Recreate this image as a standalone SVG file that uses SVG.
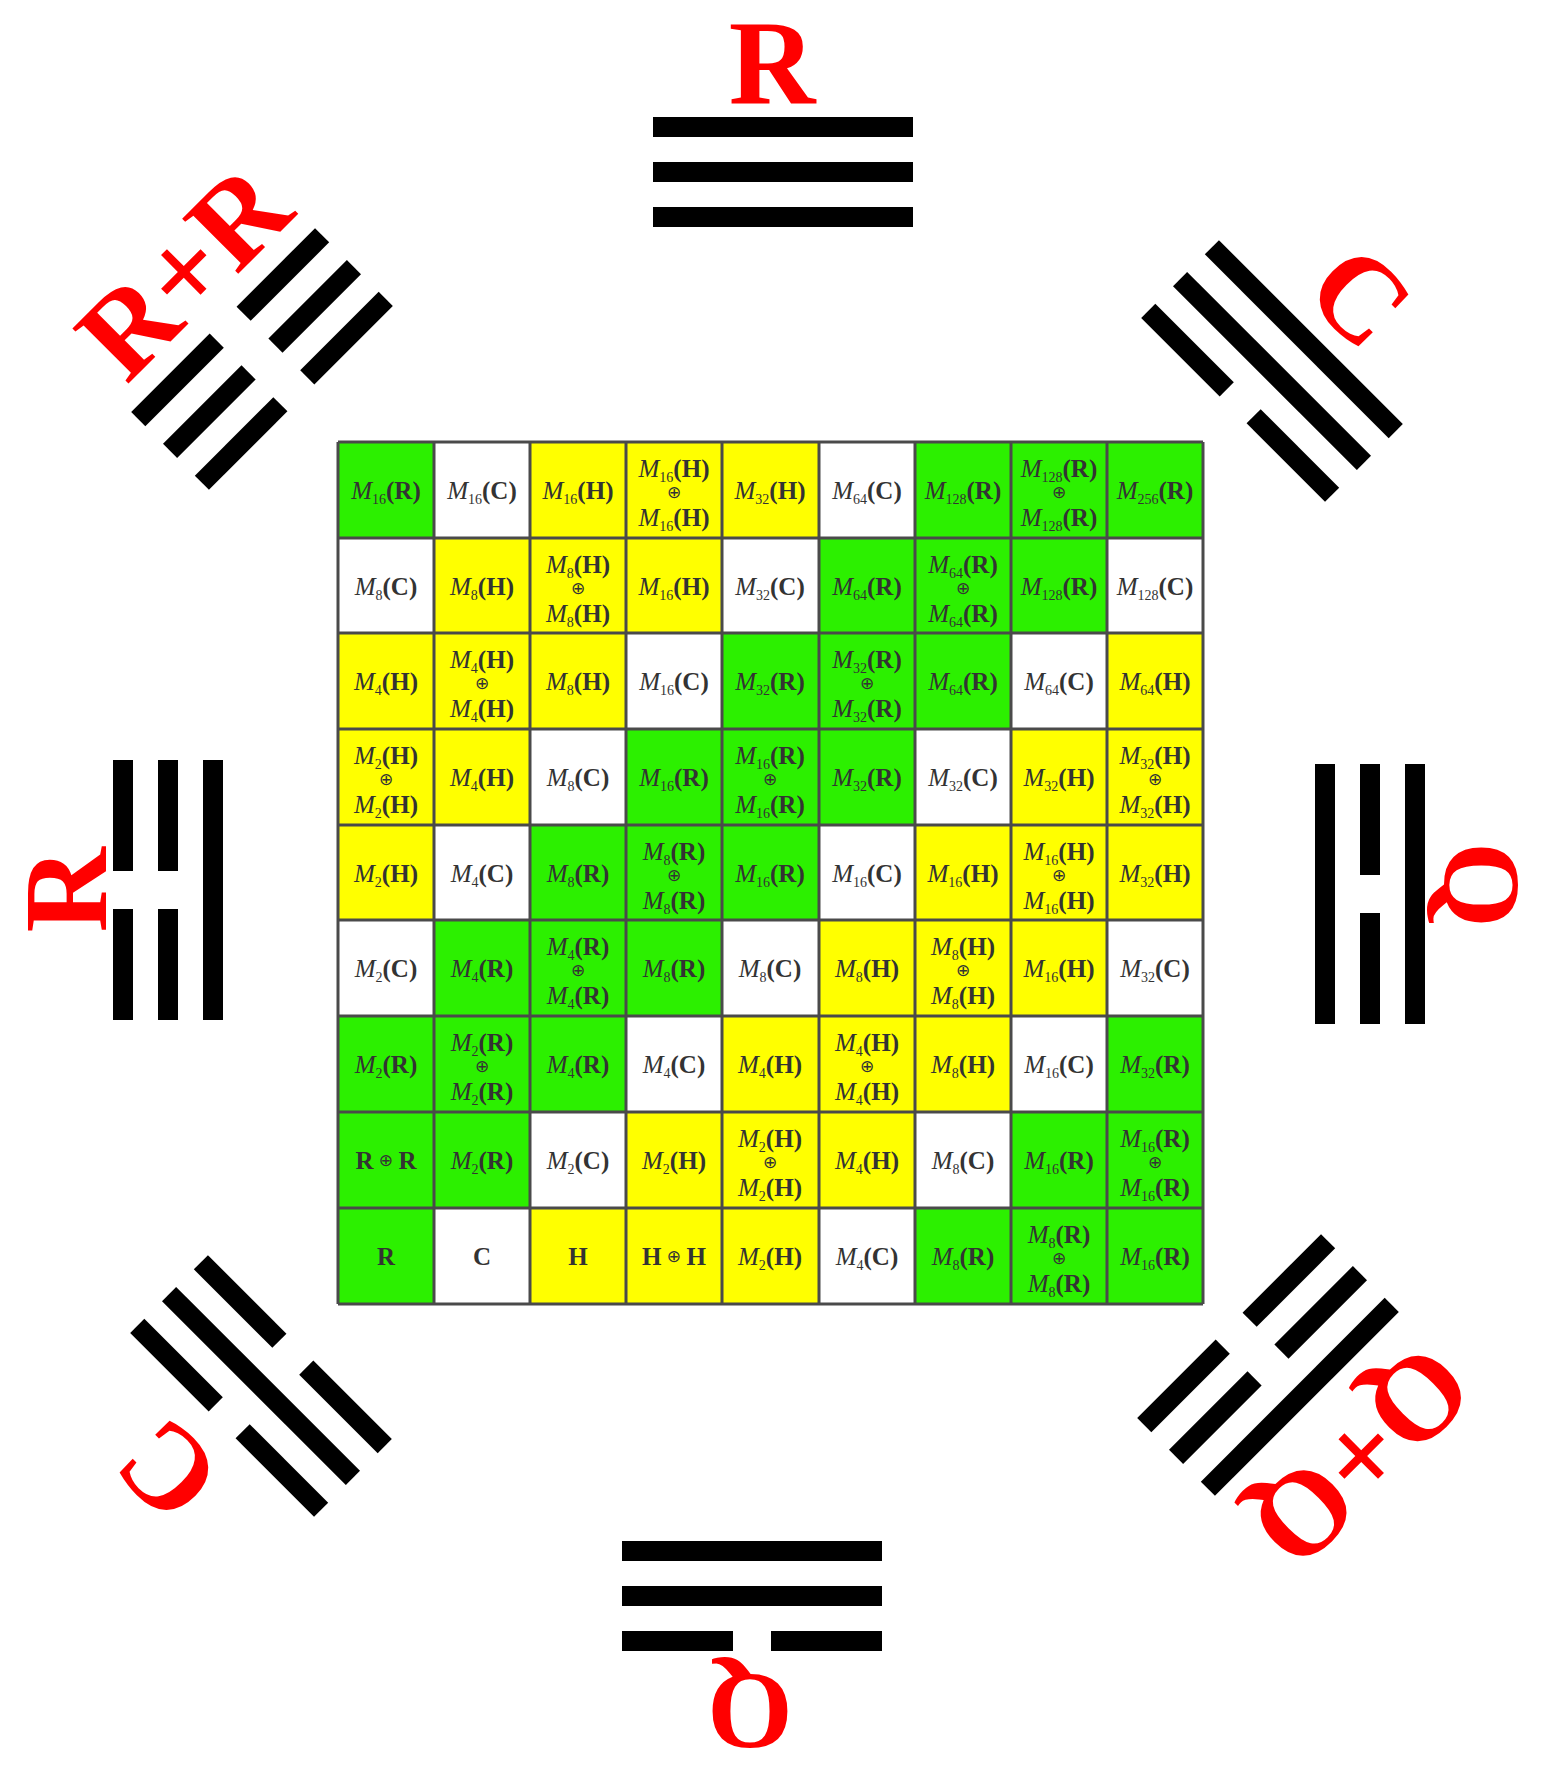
<svg xmlns="http://www.w3.org/2000/svg" xmlns:xlink="http://www.w3.org/1999/xlink" width="1543" height="1773" viewBox="0 0 1543 1773">
<style>
.G{fill:#2cf000}.Y{fill:#ffff00}.W{fill:#ffffff}
.t{font-family:"Liberation Serif",serif;font-size:25px;fill:#333;text-anchor:middle}
.m{font-style:italic}.s{font-size:14px}.b{font-weight:bold}
.o{font-family:"DejaVu Sans",sans-serif;font-size:17px;fill:#333;text-anchor:middle;dominant-baseline:central}
.lbl{font-family:"Liberation Serif",serif;font-weight:bold;fill:#ff0000;text-anchor:middle}
.bar{fill:#000}
.grid{fill:none;stroke:#4a4a4a;stroke-width:3}
</style>
<defs>
<rect id="sol" class="bar" x="-130" y="-10" width="260" height="20"/>
<g id="brk" class="bar"><rect x="-130" y="-10" width="111" height="20"/><rect x="19" y="-10" width="111" height="20"/></g>
</defs>
<rect width="1543" height="1773" fill="#fff"/>

<!-- grid cells -->
<g id="grid">
<!-- row 0 -->
<g id="r0c0"><rect class="G" x="338" y="442" width="96" height="96"/><text class="t" x="386" y="499"><tspan class="m">M</tspan><tspan class="s" dy="5">16</tspan><tspan class="b" dy="-5">(R)</tspan></text></g>
<g id="r0c1"><rect class="W" x="434" y="442" width="96" height="96"/><text class="t" x="482" y="499"><tspan class="m">M</tspan><tspan class="s" dy="5">16</tspan><tspan class="b" dy="-5">(C)</tspan></text></g>
<g id="r0c2"><rect class="Y" x="530" y="442" width="96" height="96"/><text class="t" x="578" y="499"><tspan class="m">M</tspan><tspan class="s" dy="5">16</tspan><tspan class="b" dy="-5">(H)</tspan></text></g>
<g id="r0c3"><rect class="Y" x="626" y="442" width="96" height="96"/><text class="t" x="674" y="477"><tspan class="m">M</tspan><tspan class="s" dy="5">16</tspan><tspan class="b" dy="-5">(H)</tspan></text><text class="o" x="674" y="492">⊕</text><text class="t" x="674" y="526"><tspan class="m">M</tspan><tspan class="s" dy="5">16</tspan><tspan class="b" dy="-5">(H)</tspan></text></g>
<g id="r0c4"><rect class="Y" x="722" y="442" width="97" height="96"/><text class="t" x="770" y="499"><tspan class="m">M</tspan><tspan class="s" dy="5">32</tspan><tspan class="b" dy="-5">(H)</tspan></text></g>
<g id="r0c5"><rect class="W" x="819" y="442" width="96" height="96"/><text class="t" x="867" y="499"><tspan class="m">M</tspan><tspan class="s" dy="5">64</tspan><tspan class="b" dy="-5">(C)</tspan></text></g>
<g id="r0c6"><rect class="G" x="915" y="442" width="96" height="96"/><text class="t" x="963" y="499"><tspan class="m">M</tspan><tspan class="s" dy="5">128</tspan><tspan class="b" dy="-5">(R)</tspan></text></g>
<g id="r0c7"><rect class="G" x="1011" y="442" width="96" height="96"/><text class="t" x="1059" y="477"><tspan class="m">M</tspan><tspan class="s" dy="5">128</tspan><tspan class="b" dy="-5">(R)</tspan></text><text class="o" x="1059" y="492">⊕</text><text class="t" x="1059" y="526"><tspan class="m">M</tspan><tspan class="s" dy="5">128</tspan><tspan class="b" dy="-5">(R)</tspan></text></g>
<g id="r0c8"><rect class="G" x="1107" y="442" width="96" height="96"/><text class="t" x="1155" y="499"><tspan class="m">M</tspan><tspan class="s" dy="5">256</tspan><tspan class="b" dy="-5">(R)</tspan></text></g>
<!-- row 1 -->
<g id="r1c0"><rect class="W" x="338" y="538" width="96" height="95"/><text class="t" x="386" y="595"><tspan class="m">M</tspan><tspan class="s" dy="5">8</tspan><tspan class="b" dy="-5">(C)</tspan></text></g>
<g id="r1c1"><rect class="Y" x="434" y="538" width="96" height="95"/><text class="t" x="482" y="595"><tspan class="m">M</tspan><tspan class="s" dy="5">8</tspan><tspan class="b" dy="-5">(H)</tspan></text></g>
<g id="r1c2"><rect class="Y" x="530" y="538" width="96" height="95"/><text class="t" x="578" y="573"><tspan class="m">M</tspan><tspan class="s" dy="5">8</tspan><tspan class="b" dy="-5">(H)</tspan></text><text class="o" x="578" y="588">⊕</text><text class="t" x="578" y="622"><tspan class="m">M</tspan><tspan class="s" dy="5">8</tspan><tspan class="b" dy="-5">(H)</tspan></text></g>
<g id="r1c3"><rect class="Y" x="626" y="538" width="96" height="95"/><text class="t" x="674" y="595"><tspan class="m">M</tspan><tspan class="s" dy="5">16</tspan><tspan class="b" dy="-5">(H)</tspan></text></g>
<g id="r1c4"><rect class="W" x="722" y="538" width="97" height="95"/><text class="t" x="770" y="595"><tspan class="m">M</tspan><tspan class="s" dy="5">32</tspan><tspan class="b" dy="-5">(C)</tspan></text></g>
<g id="r1c5"><rect class="G" x="819" y="538" width="96" height="95"/><text class="t" x="867" y="595"><tspan class="m">M</tspan><tspan class="s" dy="5">64</tspan><tspan class="b" dy="-5">(R)</tspan></text></g>
<g id="r1c6"><rect class="G" x="915" y="538" width="96" height="95"/><text class="t" x="963" y="573"><tspan class="m">M</tspan><tspan class="s" dy="5">64</tspan><tspan class="b" dy="-5">(R)</tspan></text><text class="o" x="963" y="588">⊕</text><text class="t" x="963" y="622"><tspan class="m">M</tspan><tspan class="s" dy="5">64</tspan><tspan class="b" dy="-5">(R)</tspan></text></g>
<g id="r1c7"><rect class="G" x="1011" y="538" width="96" height="95"/><text class="t" x="1059" y="595"><tspan class="m">M</tspan><tspan class="s" dy="5">128</tspan><tspan class="b" dy="-5">(R)</tspan></text></g>
<g id="r1c8"><rect class="W" x="1107" y="538" width="96" height="95"/><text class="t" x="1155" y="595"><tspan class="m">M</tspan><tspan class="s" dy="5">128</tspan><tspan class="b" dy="-5">(C)</tspan></text></g>
<!-- row 2 -->
<g id="r2c0"><rect class="Y" x="338" y="633" width="96" height="96"/><text class="t" x="386" y="690"><tspan class="m">M</tspan><tspan class="s" dy="5">4</tspan><tspan class="b" dy="-5">(H)</tspan></text></g>
<g id="r2c1"><rect class="Y" x="434" y="633" width="96" height="96"/><text class="t" x="482" y="668"><tspan class="m">M</tspan><tspan class="s" dy="5">4</tspan><tspan class="b" dy="-5">(H)</tspan></text><text class="o" x="482" y="683">⊕</text><text class="t" x="482" y="717"><tspan class="m">M</tspan><tspan class="s" dy="5">4</tspan><tspan class="b" dy="-5">(H)</tspan></text></g>
<g id="r2c2"><rect class="Y" x="530" y="633" width="96" height="96"/><text class="t" x="578" y="690"><tspan class="m">M</tspan><tspan class="s" dy="5">8</tspan><tspan class="b" dy="-5">(H)</tspan></text></g>
<g id="r2c3"><rect class="W" x="626" y="633" width="96" height="96"/><text class="t" x="674" y="690"><tspan class="m">M</tspan><tspan class="s" dy="5">16</tspan><tspan class="b" dy="-5">(C)</tspan></text></g>
<g id="r2c4"><rect class="G" x="722" y="633" width="97" height="96"/><text class="t" x="770" y="690"><tspan class="m">M</tspan><tspan class="s" dy="5">32</tspan><tspan class="b" dy="-5">(R)</tspan></text></g>
<g id="r2c5"><rect class="G" x="819" y="633" width="96" height="96"/><text class="t" x="867" y="668"><tspan class="m">M</tspan><tspan class="s" dy="5">32</tspan><tspan class="b" dy="-5">(R)</tspan></text><text class="o" x="867" y="683">⊕</text><text class="t" x="867" y="717"><tspan class="m">M</tspan><tspan class="s" dy="5">32</tspan><tspan class="b" dy="-5">(R)</tspan></text></g>
<g id="r2c6"><rect class="G" x="915" y="633" width="96" height="96"/><text class="t" x="963" y="690"><tspan class="m">M</tspan><tspan class="s" dy="5">64</tspan><tspan class="b" dy="-5">(R)</tspan></text></g>
<g id="r2c7"><rect class="W" x="1011" y="633" width="96" height="96"/><text class="t" x="1059" y="690"><tspan class="m">M</tspan><tspan class="s" dy="5">64</tspan><tspan class="b" dy="-5">(C)</tspan></text></g>
<g id="r2c8"><rect class="Y" x="1107" y="633" width="96" height="96"/><text class="t" x="1155" y="690"><tspan class="m">M</tspan><tspan class="s" dy="5">64</tspan><tspan class="b" dy="-5">(H)</tspan></text></g>
<!-- row 3 -->
<g id="r3c0"><rect class="Y" x="338" y="729" width="96" height="96"/><text class="t" x="386" y="764"><tspan class="m">M</tspan><tspan class="s" dy="5">2</tspan><tspan class="b" dy="-5">(H)</tspan></text><text class="o" x="386" y="779">⊕</text><text class="t" x="386" y="813"><tspan class="m">M</tspan><tspan class="s" dy="5">2</tspan><tspan class="b" dy="-5">(H)</tspan></text></g>
<g id="r3c1"><rect class="Y" x="434" y="729" width="96" height="96"/><text class="t" x="482" y="786"><tspan class="m">M</tspan><tspan class="s" dy="5">4</tspan><tspan class="b" dy="-5">(H)</tspan></text></g>
<g id="r3c2"><rect class="W" x="530" y="729" width="96" height="96"/><text class="t" x="578" y="786"><tspan class="m">M</tspan><tspan class="s" dy="5">8</tspan><tspan class="b" dy="-5">(C)</tspan></text></g>
<g id="r3c3"><rect class="G" x="626" y="729" width="96" height="96"/><text class="t" x="674" y="786"><tspan class="m">M</tspan><tspan class="s" dy="5">16</tspan><tspan class="b" dy="-5">(R)</tspan></text></g>
<g id="r3c4"><rect class="G" x="722" y="729" width="97" height="96"/><text class="t" x="770" y="764"><tspan class="m">M</tspan><tspan class="s" dy="5">16</tspan><tspan class="b" dy="-5">(R)</tspan></text><text class="o" x="770" y="779">⊕</text><text class="t" x="770" y="813"><tspan class="m">M</tspan><tspan class="s" dy="5">16</tspan><tspan class="b" dy="-5">(R)</tspan></text></g>
<g id="r3c5"><rect class="G" x="819" y="729" width="96" height="96"/><text class="t" x="867" y="786"><tspan class="m">M</tspan><tspan class="s" dy="5">32</tspan><tspan class="b" dy="-5">(R)</tspan></text></g>
<g id="r3c6"><rect class="W" x="915" y="729" width="96" height="96"/><text class="t" x="963" y="786"><tspan class="m">M</tspan><tspan class="s" dy="5">32</tspan><tspan class="b" dy="-5">(C)</tspan></text></g>
<g id="r3c7"><rect class="Y" x="1011" y="729" width="96" height="96"/><text class="t" x="1059" y="786"><tspan class="m">M</tspan><tspan class="s" dy="5">32</tspan><tspan class="b" dy="-5">(H)</tspan></text></g>
<g id="r3c8"><rect class="Y" x="1107" y="729" width="96" height="96"/><text class="t" x="1155" y="764"><tspan class="m">M</tspan><tspan class="s" dy="5">32</tspan><tspan class="b" dy="-5">(H)</tspan></text><text class="o" x="1155" y="779">⊕</text><text class="t" x="1155" y="813"><tspan class="m">M</tspan><tspan class="s" dy="5">32</tspan><tspan class="b" dy="-5">(H)</tspan></text></g>
<!-- row 4 -->
<g id="r4c0"><rect class="Y" x="338" y="825" width="96" height="95"/><text class="t" x="386" y="882"><tspan class="m">M</tspan><tspan class="s" dy="5">2</tspan><tspan class="b" dy="-5">(H)</tspan></text></g>
<g id="r4c1"><rect class="W" x="434" y="825" width="96" height="95"/><text class="t" x="482" y="882"><tspan class="m">M</tspan><tspan class="s" dy="5">4</tspan><tspan class="b" dy="-5">(C)</tspan></text></g>
<g id="r4c2"><rect class="G" x="530" y="825" width="96" height="95"/><text class="t" x="578" y="882"><tspan class="m">M</tspan><tspan class="s" dy="5">8</tspan><tspan class="b" dy="-5">(R)</tspan></text></g>
<g id="r4c3"><rect class="G" x="626" y="825" width="96" height="95"/><text class="t" x="674" y="860"><tspan class="m">M</tspan><tspan class="s" dy="5">8</tspan><tspan class="b" dy="-5">(R)</tspan></text><text class="o" x="674" y="875">⊕</text><text class="t" x="674" y="909"><tspan class="m">M</tspan><tspan class="s" dy="5">8</tspan><tspan class="b" dy="-5">(R)</tspan></text></g>
<g id="r4c4"><rect class="G" x="722" y="825" width="97" height="95"/><text class="t" x="770" y="882"><tspan class="m">M</tspan><tspan class="s" dy="5">16</tspan><tspan class="b" dy="-5">(R)</tspan></text></g>
<g id="r4c5"><rect class="W" x="819" y="825" width="96" height="95"/><text class="t" x="867" y="882"><tspan class="m">M</tspan><tspan class="s" dy="5">16</tspan><tspan class="b" dy="-5">(C)</tspan></text></g>
<g id="r4c6"><rect class="Y" x="915" y="825" width="96" height="95"/><text class="t" x="963" y="882"><tspan class="m">M</tspan><tspan class="s" dy="5">16</tspan><tspan class="b" dy="-5">(H)</tspan></text></g>
<g id="r4c7"><rect class="Y" x="1011" y="825" width="96" height="95"/><text class="t" x="1059" y="860"><tspan class="m">M</tspan><tspan class="s" dy="5">16</tspan><tspan class="b" dy="-5">(H)</tspan></text><text class="o" x="1059" y="875">⊕</text><text class="t" x="1059" y="909"><tspan class="m">M</tspan><tspan class="s" dy="5">16</tspan><tspan class="b" dy="-5">(H)</tspan></text></g>
<g id="r4c8"><rect class="Y" x="1107" y="825" width="96" height="95"/><text class="t" x="1155" y="882"><tspan class="m">M</tspan><tspan class="s" dy="5">32</tspan><tspan class="b" dy="-5">(H)</tspan></text></g>
<!-- row 5 -->
<g id="r5c0"><rect class="W" x="338" y="920" width="96" height="96"/><text class="t" x="386" y="977"><tspan class="m">M</tspan><tspan class="s" dy="5">2</tspan><tspan class="b" dy="-5">(C)</tspan></text></g>
<g id="r5c1"><rect class="G" x="434" y="920" width="96" height="96"/><text class="t" x="482" y="977"><tspan class="m">M</tspan><tspan class="s" dy="5">4</tspan><tspan class="b" dy="-5">(R)</tspan></text></g>
<g id="r5c2"><rect class="G" x="530" y="920" width="96" height="96"/><text class="t" x="578" y="955"><tspan class="m">M</tspan><tspan class="s" dy="5">4</tspan><tspan class="b" dy="-5">(R)</tspan></text><text class="o" x="578" y="970">⊕</text><text class="t" x="578" y="1004"><tspan class="m">M</tspan><tspan class="s" dy="5">4</tspan><tspan class="b" dy="-5">(R)</tspan></text></g>
<g id="r5c3"><rect class="G" x="626" y="920" width="96" height="96"/><text class="t" x="674" y="977"><tspan class="m">M</tspan><tspan class="s" dy="5">8</tspan><tspan class="b" dy="-5">(R)</tspan></text></g>
<g id="r5c4"><rect class="W" x="722" y="920" width="97" height="96"/><text class="t" x="770" y="977"><tspan class="m">M</tspan><tspan class="s" dy="5">8</tspan><tspan class="b" dy="-5">(C)</tspan></text></g>
<g id="r5c5"><rect class="Y" x="819" y="920" width="96" height="96"/><text class="t" x="867" y="977"><tspan class="m">M</tspan><tspan class="s" dy="5">8</tspan><tspan class="b" dy="-5">(H)</tspan></text></g>
<g id="r5c6"><rect class="Y" x="915" y="920" width="96" height="96"/><text class="t" x="963" y="955"><tspan class="m">M</tspan><tspan class="s" dy="5">8</tspan><tspan class="b" dy="-5">(H)</tspan></text><text class="o" x="963" y="970">⊕</text><text class="t" x="963" y="1004"><tspan class="m">M</tspan><tspan class="s" dy="5">8</tspan><tspan class="b" dy="-5">(H)</tspan></text></g>
<g id="r5c7"><rect class="Y" x="1011" y="920" width="96" height="96"/><text class="t" x="1059" y="977"><tspan class="m">M</tspan><tspan class="s" dy="5">16</tspan><tspan class="b" dy="-5">(H)</tspan></text></g>
<g id="r5c8"><rect class="W" x="1107" y="920" width="96" height="96"/><text class="t" x="1155" y="977"><tspan class="m">M</tspan><tspan class="s" dy="5">32</tspan><tspan class="b" dy="-5">(C)</tspan></text></g>
<!-- row 6 -->
<g id="r6c0"><rect class="G" x="338" y="1016" width="96" height="96"/><text class="t" x="386" y="1073"><tspan class="m">M</tspan><tspan class="s" dy="5">2</tspan><tspan class="b" dy="-5">(R)</tspan></text></g>
<g id="r6c1"><rect class="G" x="434" y="1016" width="96" height="96"/><text class="t" x="482" y="1051"><tspan class="m">M</tspan><tspan class="s" dy="5">2</tspan><tspan class="b" dy="-5">(R)</tspan></text><text class="o" x="482" y="1066">⊕</text><text class="t" x="482" y="1100"><tspan class="m">M</tspan><tspan class="s" dy="5">2</tspan><tspan class="b" dy="-5">(R)</tspan></text></g>
<g id="r6c2"><rect class="G" x="530" y="1016" width="96" height="96"/><text class="t" x="578" y="1073"><tspan class="m">M</tspan><tspan class="s" dy="5">4</tspan><tspan class="b" dy="-5">(R)</tspan></text></g>
<g id="r6c3"><rect class="W" x="626" y="1016" width="96" height="96"/><text class="t" x="674" y="1073"><tspan class="m">M</tspan><tspan class="s" dy="5">4</tspan><tspan class="b" dy="-5">(C)</tspan></text></g>
<g id="r6c4"><rect class="Y" x="722" y="1016" width="97" height="96"/><text class="t" x="770" y="1073"><tspan class="m">M</tspan><tspan class="s" dy="5">4</tspan><tspan class="b" dy="-5">(H)</tspan></text></g>
<g id="r6c5"><rect class="Y" x="819" y="1016" width="96" height="96"/><text class="t" x="867" y="1051"><tspan class="m">M</tspan><tspan class="s" dy="5">4</tspan><tspan class="b" dy="-5">(H)</tspan></text><text class="o" x="867" y="1066">⊕</text><text class="t" x="867" y="1100"><tspan class="m">M</tspan><tspan class="s" dy="5">4</tspan><tspan class="b" dy="-5">(H)</tspan></text></g>
<g id="r6c6"><rect class="Y" x="915" y="1016" width="96" height="96"/><text class="t" x="963" y="1073"><tspan class="m">M</tspan><tspan class="s" dy="5">8</tspan><tspan class="b" dy="-5">(H)</tspan></text></g>
<g id="r6c7"><rect class="W" x="1011" y="1016" width="96" height="96"/><text class="t" x="1059" y="1073"><tspan class="m">M</tspan><tspan class="s" dy="5">16</tspan><tspan class="b" dy="-5">(C)</tspan></text></g>
<g id="r6c8"><rect class="G" x="1107" y="1016" width="96" height="96"/><text class="t" x="1155" y="1073"><tspan class="m">M</tspan><tspan class="s" dy="5">32</tspan><tspan class="b" dy="-5">(R)</tspan></text></g>
<!-- row 7 -->
<g id="r7c0"><rect class="G" x="338" y="1112" width="96" height="96"/><text class="t b" x="386" y="1169">R<tspan class="o" dy="-9" font-weight="normal"> ⊕ </tspan><tspan dy="9">R</tspan></text></g>
<g id="r7c1"><rect class="G" x="434" y="1112" width="96" height="96"/><text class="t" x="482" y="1169"><tspan class="m">M</tspan><tspan class="s" dy="5">2</tspan><tspan class="b" dy="-5">(R)</tspan></text></g>
<g id="r7c2"><rect class="W" x="530" y="1112" width="96" height="96"/><text class="t" x="578" y="1169"><tspan class="m">M</tspan><tspan class="s" dy="5">2</tspan><tspan class="b" dy="-5">(C)</tspan></text></g>
<g id="r7c3"><rect class="Y" x="626" y="1112" width="96" height="96"/><text class="t" x="674" y="1169"><tspan class="m">M</tspan><tspan class="s" dy="5">2</tspan><tspan class="b" dy="-5">(H)</tspan></text></g>
<g id="r7c4"><rect class="Y" x="722" y="1112" width="97" height="96"/><text class="t" x="770" y="1147"><tspan class="m">M</tspan><tspan class="s" dy="5">2</tspan><tspan class="b" dy="-5">(H)</tspan></text><text class="o" x="770" y="1162">⊕</text><text class="t" x="770" y="1196"><tspan class="m">M</tspan><tspan class="s" dy="5">2</tspan><tspan class="b" dy="-5">(H)</tspan></text></g>
<g id="r7c5"><rect class="Y" x="819" y="1112" width="96" height="96"/><text class="t" x="867" y="1169"><tspan class="m">M</tspan><tspan class="s" dy="5">4</tspan><tspan class="b" dy="-5">(H)</tspan></text></g>
<g id="r7c6"><rect class="W" x="915" y="1112" width="96" height="96"/><text class="t" x="963" y="1169"><tspan class="m">M</tspan><tspan class="s" dy="5">8</tspan><tspan class="b" dy="-5">(C)</tspan></text></g>
<g id="r7c7"><rect class="G" x="1011" y="1112" width="96" height="96"/><text class="t" x="1059" y="1169"><tspan class="m">M</tspan><tspan class="s" dy="5">16</tspan><tspan class="b" dy="-5">(R)</tspan></text></g>
<g id="r7c8"><rect class="G" x="1107" y="1112" width="96" height="96"/><text class="t" x="1155" y="1147"><tspan class="m">M</tspan><tspan class="s" dy="5">16</tspan><tspan class="b" dy="-5">(R)</tspan></text><text class="o" x="1155" y="1162">⊕</text><text class="t" x="1155" y="1196"><tspan class="m">M</tspan><tspan class="s" dy="5">16</tspan><tspan class="b" dy="-5">(R)</tspan></text></g>
<!-- row 8 -->
<g id="r8c0"><rect class="G" x="338" y="1208" width="96" height="96"/><text class="t b" x="386" y="1265">R</text></g>
<g id="r8c1"><rect class="W" x="434" y="1208" width="96" height="96"/><text class="t b" x="482" y="1265">C</text></g>
<g id="r8c2"><rect class="Y" x="530" y="1208" width="96" height="96"/><text class="t b" x="578" y="1265">H</text></g>
<g id="r8c3"><rect class="Y" x="626" y="1208" width="96" height="96"/><text class="t b" x="674" y="1265">H<tspan class="o" dy="-9" font-weight="normal"> ⊕ </tspan><tspan dy="9">H</tspan></text></g>
<g id="r8c4"><rect class="Y" x="722" y="1208" width="97" height="96"/><text class="t" x="770" y="1265"><tspan class="m">M</tspan><tspan class="s" dy="5">2</tspan><tspan class="b" dy="-5">(H)</tspan></text></g>
<g id="r8c5"><rect class="W" x="819" y="1208" width="96" height="96"/><text class="t" x="867" y="1265"><tspan class="m">M</tspan><tspan class="s" dy="5">4</tspan><tspan class="b" dy="-5">(C)</tspan></text></g>
<g id="r8c6"><rect class="G" x="915" y="1208" width="96" height="96"/><text class="t" x="963" y="1265"><tspan class="m">M</tspan><tspan class="s" dy="5">8</tspan><tspan class="b" dy="-5">(R)</tspan></text></g>
<g id="r8c7"><rect class="G" x="1011" y="1208" width="96" height="96"/><text class="t" x="1059" y="1243"><tspan class="m">M</tspan><tspan class="s" dy="5">8</tspan><tspan class="b" dy="-5">(R)</tspan></text><text class="o" x="1059" y="1258">⊕</text><text class="t" x="1059" y="1292"><tspan class="m">M</tspan><tspan class="s" dy="5">8</tspan><tspan class="b" dy="-5">(R)</tspan></text></g>
<g id="r8c8"><rect class="G" x="1107" y="1208" width="96" height="96"/><text class="t" x="1155" y="1265"><tspan class="m">M</tspan><tspan class="s" dy="5">16</tspan><tspan class="b" dy="-5">(R)</tspan></text></g>
<path class="grid" d="M338 442V1304M434 442V1304M530 442V1304M626 442V1304M722 442V1304M819 442V1304M915 442V1304M1011 442V1304M1107 442V1304M1203 442V1304M338 442H1203M338 538H1203M338 633H1203M338 729H1203M338 825H1203M338 920H1203M338 1016H1203M338 1112H1203M338 1208H1203M338 1304H1203"/>
</g>

<!-- trigrams with labels -->
<g id="tri-top" transform="translate(783,172)">
<use xlink:href="#sol" y="-45"/><use xlink:href="#sol" y="0"/><use xlink:href="#sol" y="45"/>
</g>
<text id="lbl-top" class="lbl" font-size="120" x="772" y="104">R</text>

<g id="tri-topright" transform="translate(1272,371) rotate(45)">
<use xlink:href="#sol" y="-45"/><use xlink:href="#sol" y="0"/><use xlink:href="#brk" y="45"/>
</g>
<text id="lbl-topright" class="lbl" font-size="120" transform="translate(1332,325) rotate(45)">C</text>

<g id="tri-right" transform="translate(1370,894) rotate(90)">
<use xlink:href="#sol" y="-45"/><use xlink:href="#brk" y="0"/><use xlink:href="#sol" y="45"/>
</g>
<text id="lbl-right" class="lbl" font-size="110" transform="translate(1445,885) rotate(90)">Q</text>

<g id="tri-bottomright" transform="translate(1268,1365) rotate(135)">
<use xlink:href="#sol" y="-45"/><use xlink:href="#brk" y="0"/><use xlink:href="#brk" y="45"/>
</g>
<text id="lbl-bottomright" class="lbl" font-size="120" transform="translate(1333,1428) rotate(135)">Q+Q</text>

<g id="tri-bottom" transform="translate(752,1596) rotate(180)">
<use xlink:href="#brk" y="-45"/><use xlink:href="#sol" y="0"/><use xlink:href="#sol" y="45"/>
</g>
<text id="lbl-bottom" class="lbl" font-size="110" transform="translate(750,1675) rotate(180)">Q</text>

<g id="tri-bottomleft" transform="translate(261,1386) rotate(225)">
<use xlink:href="#brk" y="-45"/><use xlink:href="#sol" y="0"/><use xlink:href="#brk" y="45"/>
</g>
<text id="lbl-bottomleft" class="lbl" font-size="120" transform="translate(196,1442) rotate(225)">C</text>

<g id="tri-left" transform="translate(168,890) rotate(-90)">
<use xlink:href="#brk" y="-45"/><use xlink:href="#brk" y="0"/><use xlink:href="#sol" y="45"/>
</g>
<text id="lbl-left" class="lbl" font-size="118" transform="translate(106,890) rotate(-90)">R</text>

<g id="tri-topleft" transform="translate(262,359) rotate(-45)">
<use xlink:href="#brk" y="-45"/><use xlink:href="#brk" y="0"/><use xlink:href="#brk" y="45"/>
</g>
<text id="lbl-topleft" class="lbl" font-size="120" transform="translate(212,300) rotate(-45)">R+R</text>
</svg>
